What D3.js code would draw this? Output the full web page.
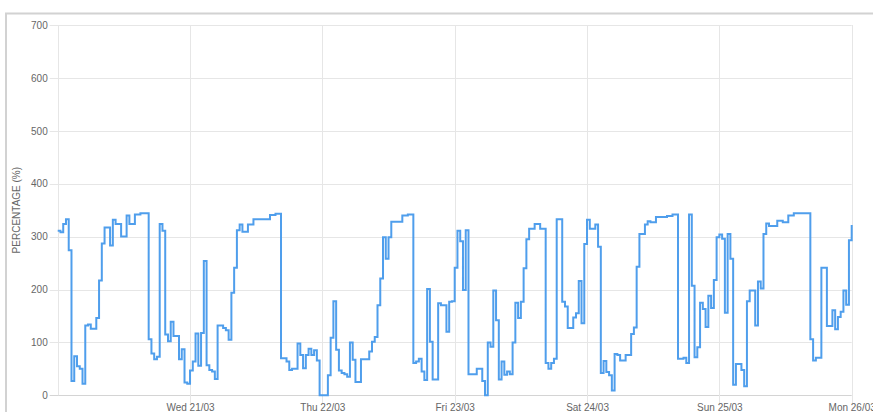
<!DOCTYPE html>
<html lang="en">
<head>
<meta charset="UTF-8" />
<script src="https://d3js.org/d3.v7.min.js"></script>
<title>Percentage</title>
<style>
  body { margin: 0; background: #fff; }
  svg { display: block; font-family: "Liberation Sans", Arial, sans-serif; }
  .grid line { stroke: #e6e6e6; stroke-width: 1; }
  .axis text { fill: #666; font-size: 10px; }
  .axis path { display: none; }
  .axis line { stroke: #e6e6e6; }
  .line { fill: none; stroke: #4f9eec; stroke-width: 2; }
</style>
</head>
<body>
<script>
var width = 873, height = 412;
var margin = { left: 57.7, right: 21.3, top: 25, bottom: 16.7 };

// hours after Tue 20/03 00:00, value starts at that hour (step after)
var hours = [0, 0.5, 1, 1.5, 2, 2.5, 3, 3.5, 4, 4.5, 5, 5.5, 6, 7, 7.5, 8, 8.5, 9.5, 10, 10.5,
  11.5, 12.5, 13, 14, 15, 16.5, 17, 17.5, 18, 18.5, 19, 19.5, 20, 20.5, 21, 22, 22.5, 23, 23.5, 24,
  24.5, 25, 25.5, 26, 26.5, 27, 27.5, 28, 28.5, 29, 30, 30.5, 31, 31.5, 32, 32.5, 33, 33.5, 34.5, 35.5,
  38.5, 39.5, 40.5, 41.5, 42, 42.5, 43.5, 44, 44.5, 45, 45.5, 46, 46.5, 47, 47.5, 49, 49.5, 50, 50.5, 51,
  51.5, 52, 52.5, 53, 53.5, 54, 55, 56.5, 57, 57.5, 58, 58.5, 59, 59.5, 60, 60.5, 62.5, 63.5, 64.5, 65,
  65.5, 66, 66.5, 67, 67.5, 68, 69, 69.5, 70.5, 71, 71.5, 72, 72.5, 73, 73.5, 74, 74.5, 76, 77, 77.5,
  78, 78.5, 79, 79.5, 80, 80.5, 81, 81.5, 82, 82.5, 83, 83.5, 84, 84.5, 85, 85.5, 86.5, 87.5, 88.5, 89,
  89.5, 90, 90.5, 91.5, 92, 92.5, 93.5, 94, 94.5, 95, 95.5, 96, 96.5, 97.5, 98, 98.5, 99, 99.5, 100, 100.5,
  101, 101.5, 102, 103, 104, 104.5, 105, 105.5, 106.5, 107, 107.5, 108.5, 110.5, 111.5, 112.5, 113.5, 114, 114.5, 115, 115.5,
  116, 116.5, 117, 117.5, 118, 118.5, 119, 119.5, 120, 120.5, 121, 121.5, 122, 122.5, 123, 124, 124.5, 125, 125.5, 126.5,
  127, 127.5, 128, 128.5, 129, 130.5, 131.5, 132.5, 133.5, 136.5, 137, 137.5, 138.5, 139.5, 140.5, 141, 141.5, 142, 142.5, 143,
  143.5, 144];
var values = [311, 308, 324, 333, 274, 27, 74, 55, 50, 22, 132, 134, 126, 146, 217, 287, 317, 283, 332, 324,
  300, 340, 324, 342, 344, 106, 79, 68, 73, 324, 311, 115, 102, 139, 112, 68, 87, 24, 22, 47,
  64, 117, 56, 118, 254, 57, 48, 45, 31, 132, 127, 123, 105, 194, 241, 312, 323, 309, 323, 333,
  341, 343, 70, 64, 48, 50, 98, 76, 51, 76, 88, 76, 85, 66, 0, 38, 109, 178, 86, 47,
  42, 40, 35, 100, 67, 25, 68, 83, 101, 110, 170, 221, 299, 258, 299, 328, 340, 342, 61, 64,
  69, 45, 29, 201, 101, 30, 174, 170, 120, 177, 178, 241, 311, 291, 199, 312, 40, 50, 27, 0,
  100, 92, 198, 142, 30, 64, 39, 45, 40, 100, 175, 146, 177, 240, 295, 315, 324, 315, 61, 50,
  61, 69, 333, 177, 168, 127, 147, 155, 216, 136, 286, 332, 315, 323, 281, 42, 65, 44, 38, 9,
  78, 76, 66, 76, 116, 128, 243, 305, 323, 329, 327, 337, 339, 342, 69, 71, 61, 342, 207, 72,
  91, 175, 163, 129, 188, 165, 218, 299, 304, 296, 156, 305, 258, 20, 59, 48, 17, 178, 198, 132,
  215, 202, 305, 325, 320, 330, 327, 340, 344, 106, 66, 71, 241, 131, 161, 125, 148, 158, 198, 171,
  293, 322];
var yTicks = [0, 100, 200, 300, 400, 500, 600, 700];
var yTitle = "PERCENTAGE (%)";

var start = new Date(2018, 2, 20);
var end = new Date(2018, 2, 26);
var data = hours.map(function (h, i) {
  return { date: d3.timeMinute.offset(start, Math.round(h * 60)), value: values[i] };
});

var svg = d3.select("body").append("svg").attr("width", width).attr("height", height);

// page frame
svg.append("path")
  .attr("d", "M6,412 V13.5 H873")
  .attr("fill", "none").attr("stroke", "#d2d2d2").attr("stroke-width", 2);

var x = d3.scaleTime().domain([start, end]).range([margin.left, width - margin.right]);
var y = d3.scaleLinear().domain([0, 700]).range([height - margin.bottom, margin.top]);

var days = d3.timeDay.range(d3.timeDay.offset(start, 1), d3.timeDay.offset(end, 1));

// grid
var grid = svg.append("g").attr("class", "grid");
grid.selectAll(".gy").data(yTicks).enter().append("line")
  .attr("x1", margin.left - 8).attr("x2", width - margin.right)
  .attr("y1", function (d) { return Math.round(y(d)) + 0.5; })
  .attr("y2", function (d) { return Math.round(y(d)) + 0.5; })
  .style("stroke", function (d) { return d === 0 ? "#d4d4d4" : null; });
grid.selectAll(".gx").data([start].concat(days)).enter().append("line")
  .attr("x1", function (d) { return Math.round(x(d)) + 0.5; })
  .attr("x2", function (d) { return Math.round(x(d)) + 0.5; })
  .attr("y1", margin.top)
  .attr("y2", function (d, i) { return i === 0 ? height - margin.bottom : height - margin.bottom + 8; });

// axes
var yAxis = svg.append("g").attr("class", "axis")
  .attr("transform", "translate(" + margin.left + ",0)")
  .call(d3.axisLeft(y).tickValues(yTicks).tickSize(0).tickPadding(10));

var xAxis = svg.append("g").attr("class", "axis")
  .attr("transform", "translate(0," + (height - margin.bottom) + ")")
  .call(d3.axisBottom(x).tickValues(days).tickSize(0).tickFormat(d3.timeFormat("%a %d/%m")));
xAxis.selectAll("text").attr("y", 16).attr("dy", 0);

svg.append("text")
  .attr("transform", "translate(20," + ((margin.top + height - margin.bottom) / 2) + ") rotate(-90)")
  .attr("text-anchor", "middle")
  .attr("fill", "#666").attr("font-size", 10)
  .text(yTitle);

var valueline = d3.line()
  .x(function (d) { return x(d.date); })
  .y(function (d) { return y(d.value); })
  .curve(d3.curveStepAfter);

svg.append("path").datum(data).attr("class", "line").attr("d", valueline);
</script>
</body>
</html>
